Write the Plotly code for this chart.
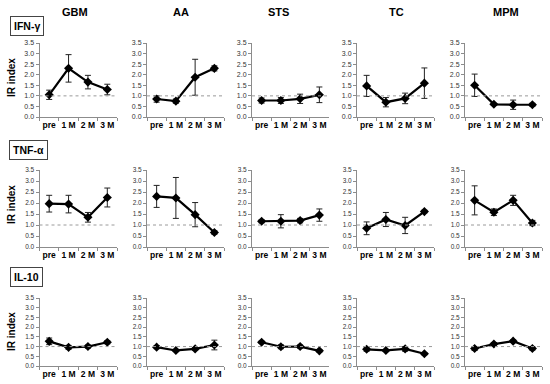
import plotly.graph_objects as go

W, H = 550, 384

categories = ["pre", "1 M", "2 M", "3 M"]
groups = ["GBM", "AA", "STS", "TC", "MPM"]
cytokines = ["IFN-γ", "TNF-α", "IL-10"]
y_ticks = [0.0, 0.5, 1.0, 1.5, 2.0, 2.5, 3.0, 3.5]

# IR index means and error bars, per group (GBM, AA, STS, TC, MPM)
ifng_means = [[1.05, 2.30, 1.65, 1.30],
              [0.85, 0.75, 1.88, 2.30],
              [0.78, 0.78, 0.86, 1.05],
              [1.47, 0.70, 0.88, 1.60],
              [1.50, 0.60, 0.58, 0.58]]
ifng_errs = [[0.22, 0.65, 0.32, 0.25],
             [0.15, 0.10, 0.85, 0.12],
             [0.12, 0.14, 0.22, 0.37],
             [0.50, 0.22, 0.25, 0.72],
             [0.53, 0.05, 0.22, 0.07]]

tnfa_means = [[1.97, 1.95, 1.35, 2.25],
              [2.30, 2.23, 1.47, 0.66],
              [1.17, 1.17, 1.20, 1.45],
              [0.85, 1.25, 0.98, 1.61],
              [2.12, 1.58, 2.12, 1.09]]
tnfa_errs = [[0.38, 0.40, 0.22, 0.43],
             [0.50, 0.93, 0.55, 0.08],
             [0.07, 0.30, 0.10, 0.28],
             [0.29, 0.32, 0.37, 0.06],
             [0.66, 0.15, 0.23, 0.12]]

il10_means = [[1.27, 0.96, 1.00, 1.22],
              [0.97, 0.80, 0.88, 1.08],
              [1.22, 0.99, 1.00, 0.78],
              [0.86, 0.80, 0.88, 0.63],
              [0.90, 1.13, 1.28, 0.90]]
il10_errs = [[0.17, 0.10, 0.08, 0.08],
             [0.08, 0.05, 0.07, 0.25],
             [0.06, 0.10, 0.08, 0.07],
             [0.10, 0.05, 0.12, 0.05],
             [0.10, 0.08, 0.07, 0.08]]

row_means = [ifng_means, tnfa_means, il10_means]
row_errs = [ifng_errs, tnfa_errs, il10_errs]

# layout in pixels
col_px = [(39.5, 117), (147, 224), (252, 329), (357, 434), (465, 542)]
row_px = [(43, 117), (170, 247), (298, 366)]
title_x_px = [75, 181, 278, 396, 506]

FONT = "Arial, Liberation Sans, sans-serif"

def px_x(v):
    return v / W

def px_y(v):
    return 1 - v / H

fig = go.Figure()
layout = dict(
    width=W, height=H,
    margin=dict(l=0, r=0, t=0, b=0, autoexpand=False),
    paper_bgcolor="white", plot_bgcolor="white",
    showlegend=False,
    font=dict(family=FONT, color="black"),
)
shapes = []
annotations = []

for r in range(3):
    for c in range(5):
        k = r * 5 + c + 1
        xs = "x" if k == 1 else f"x{k}"
        ys = "y" if k == 1 else f"y{k}"
        fig.add_trace(go.Scatter(
            x=categories, y=row_means[r][c],
            xaxis=xs, yaxis=ys,
            mode="lines+markers",
            line=dict(color="black", width=2.2),
            marker=dict(symbol="diamond", size=7, color="black"),
            error_y=dict(type="data", array=row_errs[r][c], visible=True,
                         color="#222222", thickness=1, width=3),
            cliponaxis=False,
        ))
        x0, x1 = col_px[c]
        yt, yb = row_px[r]
        layout[f"xaxis{k}"] = dict(
            domain=[px_x(x0), px_x(x1)],
            anchor=ys, type="category", range=[-0.5, 3.5],
            showline=True, linecolor="#8c8c8c", linewidth=1,
            ticks="outside", tickson="boundaries", ticklen=3, tickcolor="#8c8c8c",
            tickangle=0,
            showgrid=False, zeroline=False,
            tickfont=dict(family=FONT, size=8.5, color="black", weight="bold"),
            fixedrange=True,
        )
        layout[f"yaxis{k}"] = dict(
            domain=[px_y(yb), px_y(yt)],
            anchor=xs, range=[0, 3.5],
            tickvals=y_ticks, ticktext=[f"{v:.1f}" for v in y_ticks],
            showline=True, linecolor="#8c8c8c", linewidth=1,
            ticks="outside", ticklen=3, tickcolor="#8c8c8c",
            showgrid=False, zeroline=False,
            tickfont=dict(family=FONT, size=7 if r == 0 else 6.5, color="#333333"),
            fixedrange=True,
        )
        shapes.append(dict(
            type="line", xref=f"{xs} domain", yref=ys,
            x0=0, x1=1.0, y0=1.0, y1=1.0,
            line=dict(color="#9a9a9a", width=1, dash="dot"),
        ))

# column titles
for c, g in enumerate(groups):
    annotations.append(dict(
        x=px_x(title_x_px[c]), y=px_y(12), xref="paper", yref="paper",
        text=f"<b>{g}</b>", showarrow=False,
        font=dict(family=FONT, size=11, color="black"),
        xanchor="center", yanchor="middle",
    ))

# row labels (boxed)
box_centers = [(27, 26), (28, 150), (26, 277)]
for r, name in enumerate(cytokines):
    bx, by = box_centers[r]
    annotations.append(dict(
        x=px_x(bx), y=px_y(by), xref="paper", yref="paper",
        text=f"<b>{name}</b>", showarrow=False,
        font=dict(family=FONT, size=10.5, color="black"),
        bordercolor="#444444", borderwidth=1, borderpad=3, bgcolor="white",
        xanchor="center", yanchor="middle",
    ))

# y axis titles
ytitle_y = [78, 205, 332]
for r in range(3):
    annotations.append(dict(
        x=px_x(11), y=px_y(ytitle_y[r]), xref="paper", yref="paper",
        text="<b>IR index</b>", showarrow=False, textangle=-90,
        font=dict(family=FONT, size=10, color="black"),
        xanchor="center", yanchor="middle",
    ))

layout["shapes"] = shapes
layout["annotations"] = annotations
fig.update_layout(**layout)
fig.write_html("out.html",
               config={"displayModeBar": False, "staticPlot": True},
               post_script="document.body.style.margin='0';document.body.style.padding='0';")
